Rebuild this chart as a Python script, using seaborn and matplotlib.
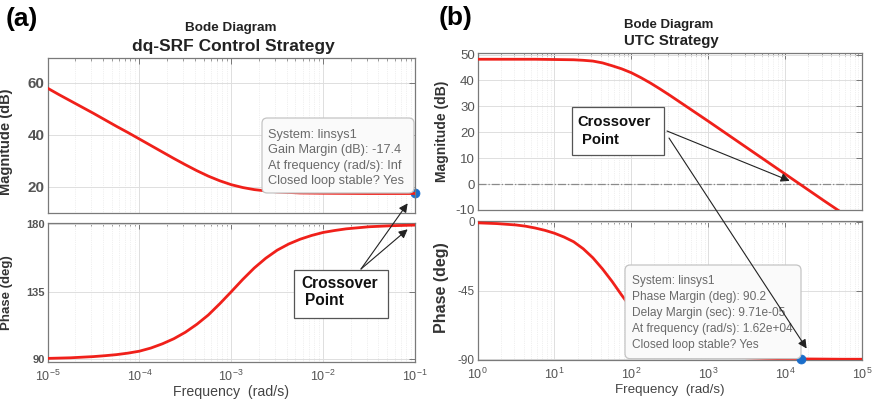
import numpy as np
import pandas as pd
import seaborn as sns
import matplotlib.pyplot as plt
from matplotlib.ticker import LogLocator, NullFormatter, FixedLocator
from matplotlib.patches import FancyBboxPatch, Rectangle, FancyArrowPatch

W, H = 876, 404

# (a) dq-SRF control strategy (frequency as log10 exponent)
dq_exp = [-5, -4.875, -4.75, -4.625, -4.5, -4.375, -4.25, -4.125, -4, -3.875, -3.75, -3.625,
          -3.5, -3.375, -3.25, -3.125, -3, -2.875, -2.75, -2.625, -2.5, -2.375, -2.25, -2.125,
          -2, -1.875, -1.75, -1.625, -1.5, -1.25, -1]
dq_mag = [58.0, 55.5, 53.1, 50.7, 48.3, 45.8, 43.3, 40.9, 38.4, 35.9, 33.4, 30.9,
          28.5, 26.2, 24.1, 22.3, 20.8, 19.7, 18.9, 18.4, 18.0, 17.8, 17.6, 17.55,
          17.5, 17.47, 17.45, 17.42, 17.4, 17.4, 17.4]
dq_phase = [90.6, 90.8, 91.0, 91.4, 91.8, 92.4, 93.1, 94.1, 95.4, 97.5, 100.3, 103.7,
            108.0, 113.3, 119.5, 127.0, 135.0, 143.2, 150.8, 157.3, 162.7, 166.8, 170.0, 172.5,
            174.5, 175.8, 176.9, 177.6, 178.3, 179.0, 179.4]

# (b) UTC strategy
utc_exp = [0, 0.25, 0.5, 0.625, 0.75, 0.875, 1, 1.125, 1.25, 1.375, 1.5, 1.625, 1.75, 1.875,
           2, 2.125, 2.25, 2.375, 2.5, 2.625, 2.75, 3, 3.25, 3.5, 3.75, 4, 4.25, 4.5, 4.75, 5]
utc_mag = [48.2, 48.2, 48.2, 48.2, 48.2, 48.15, 48.1, 48.05, 48.0, 47.8, 47.5, 46.8, 45.7, 44.5,
           43.0, 41.1, 39.0, 36.7, 34.3, 31.8, 29.3, 24.3, 19.2, 14.1, 9.0, 3.9, -1.2, -6.3, -11.3, -16.3]
utc_phase = [-0.6, -1.1, -2.0, -2.8, -4.0, -5.5, -7.4, -9.9, -13.0, -17.6, -23.5, -30.8, -39.0, -48.0,
             -56.5, -64.0, -70.0, -75.0, -79.0, -82.0, -84.0, -86.8, -88.2, -89.0, -89.4, -89.7, -89.8,
             -89.9, -90.0, -90.0]

# margin points marked with data tips
gm_freq, gm_mag = 0.1, 17.4
pm_freq, pm_phase = 1.62e4, -90.0

dq_tip = ['System: linsys1', 'Gain Margin (dB): -17.4', 'At frequency (rad/s): Inf', 'Closed loop stable? Yes']
utc_tip = ['System: linsys1', 'Phase Margin (deg): 90.2', 'Delay Margin (sec): 9.71e-05',
           'At frequency (rad/s): 1.62e+04', 'Closed loop stable? Yes']

df_a = pd.DataFrame({'freq': [10.0 ** e for e in dq_exp], 'mag': dq_mag, 'phase': dq_phase})
df_b = pd.DataFrame({'freq': [10.0 ** e for e in utc_exp], 'mag': utc_mag, 'phase': utc_phase})

sns.set_theme(style='white')
plt.rcParams['font.family'] = ['Liberation Sans', 'DejaVu Sans']
plt.rcParams['mathtext.default'] = 'regular'
plt.rcParams['axes.unicode_minus'] = False

RED = '#f0201a'
BLUE = '#1a6ecb'
TICK = '#555555'


def rect(x0, y0, x1, y1):
    return [x0 / W, 1 - y1 / H, (x1 - x0) / W, (y1 - y0) / H]


def fp(x, y):
    return (x / W, 1 - y / H)


def style_axes(ax, xlim, ylim, yticks, show_x, bold_y, ysize):
    ax.set_xscale('log')
    ax.set_xlim(*xlim)
    ax.set_ylim(*ylim)
    ax.yaxis.set_major_locator(FixedLocator(yticks))
    ax.xaxis.set_major_locator(LogLocator(base=10, numticks=10))
    ax.xaxis.set_minor_locator(LogLocator(base=10, subs=np.arange(2, 10), numticks=10))
    ax.xaxis.set_minor_formatter(NullFormatter())
    if not show_x:
        ax.xaxis.set_major_formatter(NullFormatter())
    ax.tick_params(which='both', direction='in', top=True, right=True, colors='#777777',
                   labelcolor=TICK)
    ax.tick_params(which='major', length=4, width=0.7)
    ax.tick_params(which='minor', length=2, width=0.5)
    ax.tick_params(axis='x', labelsize=9, pad=5)
    ax.tick_params(axis='y', labelsize=ysize, pad=2)
    if bold_y:
        for t in ax.get_yticklabels():
            t.set_fontweight('bold')
    ax.grid(which='major', color='#dedede', lw=0.7)
    ax.grid(which='minor', axis='x', color='#e2e2e2', lw=0.5, ls=':')
    ax.set_axisbelow(True)
    for s in ax.spines.values():
        s.set_color('#7a7a7a')
        s.set_linewidth(0.9)
    ax.set_xlabel('')
    ax.set_ylabel('')


fig = plt.figure(figsize=(W / 100, H / 100), dpi=100)
ax_a1 = fig.add_axes(rect(47.5, 58.3, 415, 212.7))
ax_a2 = fig.add_axes(rect(47.5, 222.7, 415, 361.7))
ax_b1 = fig.add_axes(rect(477.5, 53.3, 862, 210))
ax_b2 = fig.add_axes(rect(477.5, 221, 862, 360))

# (a) curves
sns.scatterplot(x=[gm_freq], y=[gm_mag], ax=ax_a1, color=BLUE, s=42, edgecolor=BLUE,
                zorder=2, clip_on=False, legend=False)
sns.lineplot(data=df_a, x='freq', y='mag', ax=ax_a1, color=RED, lw=2.0, zorder=3)
sns.lineplot(data=df_a, x='freq', y='phase', ax=ax_a2, color=RED, lw=2.0, zorder=3)

# (b) curves
ax_b1.axhline(0, color='#8a8a8a', ls='-.', lw=0.9, zorder=2)
sns.lineplot(data=df_b, x='freq', y='mag', ax=ax_b1, color=RED, lw=2.0, zorder=3)
sns.lineplot(data=df_b, x='freq', y='phase', ax=ax_b2, color=RED, lw=2.0, zorder=3)
sns.scatterplot(x=[pm_freq], y=[pm_phase], ax=ax_b2, color=BLUE, s=42, edgecolor=BLUE,
                zorder=4, clip_on=False, legend=False)

style_axes(ax_a1, (1e-5, 1e-1), (10, 69.5), [20, 40, 60], False, True, 11)
style_axes(ax_a2, (1e-5, 1e-1), (88.4, 181), [90, 135, 180], True, True, 8)
style_axes(ax_b1, (1e0, 1e5), (-10, 50.5), list(range(-10, 51, 10)), False, False, 9.5)
style_axes(ax_b2, (1e0, 1e5), (-90.5, 0.6), [-90, -45, 0], True, False, 8.5)

# y labels: (axis, text, size, x in px, vertical position in axes fraction)
ylabels = [(ax_a1, 'Magnitude (dB)', 10.5, (13 - 47.5) / 367.5, 0.46),
           (ax_a2, 'Phase (deg)', 9.5, (13 - 47.5) / 367.5, 0.5),
           (ax_b1, 'Magnitude (dB)', 10, (449 - 477.5) / 384.5, 0.5),
           (ax_b2, 'Phase (deg)', 11.5, (449 - 477.5) / 384.5, 0.52)]
for ax, lab, size, lx, ly in ylabels:
    ax.set_ylabel(lab, fontsize=size, fontweight='bold', color='#333333')
    ax.yaxis.set_label_coords(lx, ly)
ax_a2.set_xlabel('Frequency  (rad/s)', fontsize=10.2, color='#444444', labelpad=1)
ax_b2.set_xlabel('Frequency  (rad/s)', fontsize=9.6, color='#444444', labelpad=1)

# titles and panel letters
fig.text(*fp(231, 28), 'Bode Diagram', ha='center', va='center', fontsize=9.7, fontweight='bold', color='#222222')
fig.text(*fp(233, 46), 'dq-SRF Control Strategy', ha='center', va='center', fontsize=12.5, fontweight='bold', color='#222222')
fig.text(*fp(669, 25), 'Bode Diagram', ha='center', va='center', fontsize=9.5, fontweight='bold', color='#222222')
fig.text(*fp(671, 41), 'UTC Strategy', ha='center', va='center', fontsize=10.8, fontweight='bold', color='#222222')
fig.text(*fp(22, 19), '(a)', ha='center', va='center', fontsize=19, fontweight='bold', color='black')
fig.text(*fp(456, 18), '(b)', ha='center', va='center', fontsize=19, fontweight='bold', color='black')


def data_tip(x0, y0, x1, y1, tx, ys, lines, size):
    box = FancyBboxPatch(fp(x0, y1), (x1 - x0) / W, (y1 - y0) / H,
                         boxstyle='round,pad=0,rounding_size=0.006', mutation_aspect=W / H,
                         transform=fig.transFigure, fc='#fafafa', ec='#c4c4c4', lw=0.9, zorder=5)
    fig.add_artist(box)
    for y, line in zip(ys, lines):
        fig.text(*fp(tx, y), line, ha='left', va='center', fontsize=size, color='#6a6a6a', zorder=6)


def note_box(x0, y0, x1, y1, t1, t2, size):
    box = Rectangle(fp(x0, y1), (x1 - x0) / W, (y1 - y0) / H, transform=fig.transFigure,
                    fc='white', ec='#555555', lw=0.9, zorder=5)
    fig.add_artist(box)
    fig.text(*fp(*t1[:2]), t1[2], ha='left', va='center', fontsize=size, fontweight='bold', color='#111111', zorder=6)
    fig.text(*fp(*t2[:2]), t2[2], ha='left', va='center', fontsize=size, fontweight='bold', color='#111111', zorder=6)


def arrow(start_px, ax, tip):
    disp = ax.transData.transform(tip)
    end = fig.transFigure.inverted().transform(disp)
    a = FancyArrowPatch(fp(*start_px), tuple(end), transform=fig.transFigure, arrowstyle='-|>',
                        mutation_scale=13, color='#222222', lw=0.8, shrinkA=0, shrinkB=0, zorder=7)
    fig.add_artist(a)


data_tip(262, 118, 414, 193, 268, [135, 150.3, 165.7, 181], dq_tip, 9.2)
note_box(294, 270, 388, 318, (301.5, 283.5, 'Crossover'), (305.5, 300.5, 'Point'), 11.2)
arrow((361, 269), ax_a1, (10 ** -1.08, 13.6))
arrow((361, 269), ax_a2, (10 ** -1.08, 176.6))

data_tip(625, 265, 801, 358.7, 631.7, [281, 297, 312.7, 328.7, 344.7], utc_tip, 8.6)
note_box(571.5, 106.7, 664, 154.5, (577.7, 121.7, 'Crossover'), (581.7, 140, 'Point'), 10.6)
arrow((667, 131), ax_b1, (10 ** 4.06, 1.25))
arrow((669, 138), ax_b2, (10 ** 4.28, -83))

fig.savefig('out.png', dpi=100)
